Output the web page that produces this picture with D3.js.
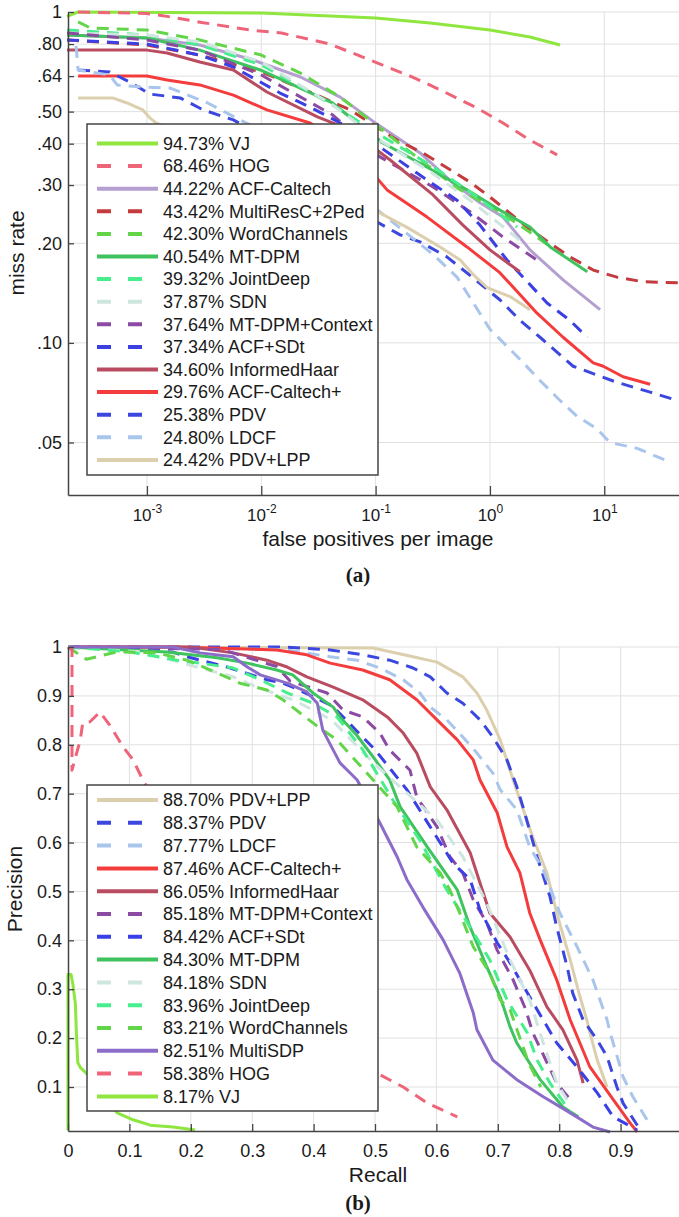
<!DOCTYPE html>
<html>
<head>
<meta charset="utf-8">
<script src="https://cdnjs.cloudflare.com/ajax/libs/d3/7.8.5/d3.min.js"></script>
<style>
body { margin: 0; background: #fff; }
text { font-family: 'Liberation Sans', Arial, sans-serif; fill: #1a1a1a; }
</style>
</head>
<body>
<script>
// ---------- (a) miss rate vs false positives per image ----------
var missNames = ['VJ', 'HOG', 'ACF-Caltech', 'MultiResC+2Ped', 'WordChannels', 'MT-DPM', 'JointDeep',
    'SDN', 'MT-DPM+Context', 'ACF+SDt', 'InformedHaar', 'ACF-Caltech+', 'PDV', 'LDCF', 'PDV+LPP'];
var missScores = [94.73, 68.46, 44.22, 43.42, 42.30, 40.54, 39.32, 37.87, 37.64, 37.34, 34.60, 29.76, 25.38, 24.80, 24.42];
var missTicks = [0.05, 0.10, 0.20, 0.30, 0.40, 0.50, 0.64, 0.80, 1];
var missTickLabels = ['.05', '.10', '.20', '.30', '.40', '.50', '.64', '.80', '1'];
var fppiTicks = [1e-3, 1e-2, 1e-1, 1, 10];

// [fppi, miss rate]
var missVJ = [[0.0002, 0.97], [0.00025, 1.0], [0.01, 0.993], [0.04, 0.972], [0.1, 0.959], [0.3, 0.926], [1.0, 0.882], [2.24, 0.84], [4.1, 0.795]];
var missHOG = [[0.00025, 1.0], [0.001, 0.99], [0.0015, 0.97], [0.003, 0.93], [0.008, 0.882], [0.015, 0.864], [0.04, 0.8], [0.089, 0.716], [0.21, 0.636], [0.37, 0.581], [0.77, 0.513], [1.3, 0.462], [2.24, 0.41], [3.87, 0.37]];
var missACFCaltech = [[0.0002, 0.852], [0.001, 0.834], [0.0029, 0.795], [0.0085, 0.716], [0.022, 0.636], [0.049, 0.553], [0.105, 0.456], [0.245, 0.375], [0.475, 0.304], [0.818, 0.265], [1.3, 0.24], [2.24, 0.191], [4.36, 0.155], [9.19, 0.126]];
var missMultiResC = [[0.0002, 0.823], [0.001, 0.795], [0.0029, 0.741], [0.01, 0.659], [0.0267, 0.573], [0.06, 0.506], [0.154, 0.41], [0.26, 0.375], [0.67, 0.306], [1.0, 0.276], [2.11, 0.224], [3.36, 0.2], [5.0, 0.182], [8.0, 0.166], [12.9, 0.158], [21.8, 0.153], [45, 0.152]];
var missWordChannels = [[0.00025, 0.933], [0.00032, 0.895], [0.001, 0.882], [0.0029, 0.823], [0.01, 0.741], [0.022, 0.654], [0.049, 0.553], [0.109, 0.446], [0.19, 0.383], [0.515, 0.294], [1.22, 0.249], [2.24, 0.216], [3.7, 0.191]];
var missMTDPM = [[0.0002, 0.852], [0.001, 0.834], [0.0029, 0.767], [0.0098, 0.668], [0.042, 0.531], [0.069, 0.462], [0.116, 0.402], [0.28, 0.34], [0.63, 0.29], [1.22, 0.252], [2.24, 0.224], [3.36, 0.195], [7.1, 0.164]];
var missJointDeep = [[0.0002, 0.882], [0.001, 0.852], [0.0029, 0.795], [0.01, 0.692], [0.042, 0.524], [0.109, 0.425], [0.3, 0.345], [0.67, 0.286], [1.73, 0.224]];
var missSDN = [[0.0002, 0.864], [0.001, 0.852], [0.0029, 0.812], [0.01, 0.706], [0.042, 0.524], [0.109, 0.41], [0.3, 0.329], [0.67, 0.27], [1.83, 0.204]];
var missMTDPMContext = [[0.0002, 0.864], [0.001, 0.823], [0.0029, 0.767], [0.01, 0.645], [0.042, 0.489], [0.109, 0.365], [0.318, 0.296], [0.67, 0.249], [1.3, 0.209], [2.58, 0.178]];
var missACFSDt = [[0.0002, 0.823], [0.001, 0.8], [0.0029, 0.741], [0.0057, 0.682], [0.0146, 0.569], [0.0267, 0.516], [0.049, 0.462], [0.109, 0.391], [0.23, 0.326], [0.515, 0.27], [0.818, 0.227], [1.41, 0.178], [2.24, 0.15], [3.16, 0.132], [5.0, 0.117], [7.1, 0.104]];
var missInformedHaar = [[0.0002, 0.767], [0.001, 0.767], [0.0015, 0.752], [0.0029, 0.706], [0.0057, 0.668], [0.0112, 0.573], [0.031, 0.482], [0.06, 0.44], [0.134, 0.357], [0.318, 0.28], [0.58, 0.227], [1.0, 0.191], [1.83, 0.164]];
var missACFCaltechPlus = [[0.00025, 0.641], [0.001, 0.641], [0.0015, 0.623], [0.0029, 0.602], [0.0057, 0.561], [0.0112, 0.506], [0.0267, 0.462], [0.06, 0.391], [0.126, 0.29], [0.282, 0.24], [0.63, 0.195], [1.22, 0.163], [2.58, 0.123], [4.36, 0.104], [8.0, 0.087], [9.8, 0.085], [14.6, 0.079], [25.2, 0.075]];
var missPDV = [[0.00025, 0.668], [0.00047, 0.659], [0.00071, 0.614], [0.00106, 0.565], [0.00195, 0.55], [0.0031, 0.506], [0.0057, 0.472], [0.012, 0.41], [0.0267, 0.333], [0.056, 0.261], [0.164, 0.212], [0.245, 0.202], [0.42, 0.182], [0.67, 0.16], [1.22, 0.135], [1.83, 0.117], [2.74, 0.104], [5.34, 0.085], [12.9, 0.076], [25.2, 0.071], [43.3, 0.067]];
var missLDCF = [[0.00024, 0.79], [0.00025, 0.668], [0.00047, 0.645], [0.00055, 0.602], [0.00087, 0.594], [0.0016, 0.589], [0.0034, 0.531], [0.0065, 0.472], [0.012, 0.425], [0.022, 0.378], [0.049, 0.311], [0.109, 0.249], [0.318, 0.185], [0.515, 0.158], [1.0, 0.11], [1.73, 0.091], [2.74, 0.077], [4.1, 0.067], [5.78, 0.06], [8.65, 0.055], [11.2, 0.05], [19.4, 0.048], [35.4, 0.044]];
var missPDVLPP = [[0.00025, 0.55], [0.0005, 0.55], [0.00067, 0.531], [0.00092, 0.506], [0.00106, 0.479], [0.0012, 0.462], [0.0029, 0.41], [0.0098, 0.357], [0.0326, 0.3], [0.109, 0.247], [0.19, 0.223], [0.366, 0.195], [0.55, 0.178], [0.7, 0.162], [0.944, 0.147], [1.5, 0.138], [2.24, 0.126]];

var missCurves = [missVJ, missHOG, missACFCaltech, missMultiResC, missWordChannels, missMTDPM, missJointDeep,
    missSDN, missMTDPMContext, missACFSDt, missInformedHaar, missACFCaltechPlus, missPDV, missLDCF, missPDVLPP];

// ---------- (b) precision vs recall ----------
var prNames = ['PDV+LPP', 'PDV', 'LDCF', 'ACF-Caltech+', 'InformedHaar', 'MT-DPM+Context', 'ACF+SDt',
    'MT-DPM', 'SDN', 'JointDeep', 'WordChannels', 'MultiSDP', 'HOG', 'VJ'];
var prScores = [88.70, 88.37, 87.77, 87.46, 86.05, 85.18, 84.42, 84.30, 84.18, 83.96, 83.21, 82.51, 58.38, 8.17];
var recallTicks = [0, 0.1, 0.2, 0.3, 0.4, 0.5, 0.6, 0.7, 0.8, 0.9];
var precisionTicks = [0.1, 0.2, 0.3, 0.4, 0.5, 0.6, 0.7, 0.8, 0.9, 1];

// [recall, precision]
var prPDVLPP = [[0, 1], [0.497, 0.998], [0.562, 0.98], [0.601, 0.969], [0.643, 0.939], [0.666, 0.906], [0.682, 0.871], [0.704, 0.81], [0.725, 0.728], [0.757, 0.611], [0.78, 0.538], [0.796, 0.456], [0.818, 0.36], [0.834, 0.284], [0.845, 0.237], [0.85, 0.211], [0.862, 0.155], [0.878, 0.1]];
var prPDV = [[0, 1], [0.35, 1.0], [0.427, 0.994], [0.48, 0.984], [0.524, 0.973], [0.562, 0.957], [0.59, 0.939], [0.617, 0.906], [0.643, 0.885], [0.671, 0.851], [0.692, 0.816], [0.715, 0.769], [0.731, 0.714], [0.741, 0.673], [0.764, 0.571], [0.785, 0.489], [0.796, 0.427], [0.813, 0.346], [0.822, 0.292], [0.839, 0.237], [0.862, 0.196], [0.878, 0.162], [0.894, 0.1], [0.904, 0.067], [0.932, 0.012]];
var prLDCF = [[0, 1], [0.35, 0.995], [0.427, 0.98], [0.471, 0.973], [0.508, 0.957], [0.546, 0.933], [0.573, 0.906], [0.59, 0.877], [0.617, 0.851], [0.643, 0.816], [0.666, 0.783], [0.692, 0.742], [0.704, 0.708], [0.731, 0.667], [0.752, 0.591], [0.774, 0.544], [0.801, 0.456], [0.829, 0.387], [0.855, 0.319], [0.878, 0.237], [0.883, 0.211], [0.904, 0.121], [0.92, 0.08], [0.943, 0.033]];
var prACFCaltechPlus = [[0, 1], [0.171, 1.0], [0.34, 0.994], [0.389, 0.984], [0.427, 0.967], [0.48, 0.953], [0.524, 0.933], [0.568, 0.892], [0.601, 0.851], [0.634, 0.81], [0.66, 0.769], [0.671, 0.728], [0.699, 0.661], [0.715, 0.591], [0.736, 0.538], [0.752, 0.456], [0.769, 0.401], [0.796, 0.319], [0.818, 0.237], [0.85, 0.141], [0.888, 0.074], [0.915, 0.027], [0.927, 0.008]];
var prInformedHaar = [[0, 1], [0.2, 1.0], [0.269, 0.988], [0.324, 0.973], [0.357, 0.959], [0.389, 0.939], [0.432, 0.918], [0.48, 0.892], [0.52, 0.857], [0.546, 0.824], [0.568, 0.783], [0.59, 0.714], [0.617, 0.667], [0.655, 0.579], [0.687, 0.456], [0.72, 0.407], [0.752, 0.339], [0.78, 0.264], [0.806, 0.217], [0.829, 0.155], [0.839, 0.108]];
var prMTDPMContext = [[0, 1], [0.25, 0.995], [0.34, 0.96], [0.362, 0.93], [0.422, 0.906], [0.448, 0.871], [0.48, 0.857], [0.508, 0.824], [0.524, 0.789], [0.557, 0.748], [0.568, 0.693], [0.601, 0.632], [0.622, 0.571], [0.643, 0.538], [0.66, 0.483], [0.682, 0.436], [0.699, 0.38], [0.725, 0.319], [0.745, 0.26], [0.757, 0.211], [0.796, 0.108], [0.818, 0.074]];
var prACFSDt = [[0, 1], [0.17, 0.99], [0.194, 0.98], [0.259, 0.959], [0.324, 0.933], [0.35, 0.926], [0.366, 0.918], [0.43, 0.88], [0.5, 0.79], [0.552, 0.708], [0.59, 0.632], [0.627, 0.558], [0.655, 0.524], [0.671, 0.462], [0.699, 0.395], [0.72, 0.354], [0.752, 0.284], [0.796, 0.19], [0.829, 0.141], [0.862, 0.088], [0.888, 0.039], [0.927, 0.012]];
var prMTDPM = [[0, 1], [0.161, 0.99], [0.243, 0.978], [0.292, 0.967], [0.34, 0.953], [0.366, 0.943], [0.399, 0.906], [0.432, 0.877], [0.443, 0.857], [0.47, 0.82], [0.5, 0.77], [0.524, 0.728], [0.541, 0.673], [0.585, 0.591], [0.634, 0.503], [0.655, 0.427], [0.682, 0.346], [0.704, 0.284], [0.72, 0.223], [0.731, 0.19], [0.769, 0.115], [0.806, 0.059], [0.831, 0.039]];
var prSDN = [[0, 1], [0.12, 0.99], [0.269, 0.939], [0.308, 0.918], [0.37, 0.89], [0.43, 0.85], [0.5, 0.76], [0.601, 0.646], [0.643, 0.571], [0.682, 0.476], [0.72, 0.36], [0.752, 0.278], [0.774, 0.19], [0.796, 0.108], [0.82, 0.06]];
var prJointDeep = [[0, 1], [0.1, 0.99], [0.178, 0.973], [0.215, 0.967], [0.269, 0.957], [0.313, 0.933], [0.357, 0.906], [0.399, 0.885], [0.438, 0.857], [0.48, 0.79], [0.529, 0.687], [0.573, 0.605], [0.617, 0.503], [0.655, 0.427], [0.687, 0.36], [0.715, 0.278], [0.748, 0.211], [0.764, 0.155], [0.785, 0.108], [0.82, 0.045]];
var prWordChannels = [[0, 1], [0.03, 0.975], [0.08, 0.99], [0.145, 0.988], [0.194, 0.973], [0.243, 0.947], [0.28, 0.926], [0.324, 0.912], [0.35, 0.892], [0.378, 0.865], [0.41, 0.834], [0.438, 0.81], [0.497, 0.728], [0.536, 0.673], [0.568, 0.591], [0.606, 0.538], [0.622, 0.503], [0.638, 0.456], [0.66, 0.387], [0.687, 0.333], [0.704, 0.278], [0.72, 0.258], [0.75, 0.15], [0.77, 0.1]];
var prMultiSDP = [[0, 1], [0.171, 1.0], [0.215, 0.988], [0.269, 0.98], [0.292, 0.959], [0.313, 0.943], [0.357, 0.926], [0.389, 0.908], [0.406, 0.885], [0.415, 0.83], [0.432, 0.789], [0.443, 0.763], [0.471, 0.728], [0.508, 0.64], [0.536, 0.571], [0.552, 0.524], [0.578, 0.468], [0.611, 0.401], [0.638, 0.333], [0.66, 0.252], [0.666, 0.217], [0.692, 0.155], [0.731, 0.115], [0.774, 0.08], [0.818, 0.047], [0.855, 0.018], [0.883, 0.008]];
var prHOG = [[0, 1], [0.0065, 0.994], [0.0065, 0.748], [0.02, 0.81], [0.024, 0.845], [0.036, 0.847], [0.052, 0.867], [0.068, 0.84], [0.09, 0.795], [0.106, 0.769], [0.122, 0.728], [0.3, 0.35], [0.508, 0.125], [0.546, 0.1], [0.585, 0.067], [0.634, 0.039]];
var prVJ = [[0, 0.012], [0, 0.33], [0.005, 0.33], [0.008, 0.31], [0.012, 0.27], [0.014, 0.2], [0.016, 0.15], [0.02, 0.14], [0.03, 0.128], [0.05, 0.1], [0.08, 0.047], [0.106, 0.033], [0.134, 0.022], [0.171, 0.018], [0.207, 0.012]];

var prCurves = [prPDVLPP, prPDV, prLDCF, prACFCaltechPlus, prInformedHaar, prMTDPMContext, prACFSDt,
    prMTDPM, prSDN, prJointDeep, prWordChannels, prMultiSDP, prHOG, prVJ];

// line styles per method
var methodStyle = {
    'VJ': { color: '#8ee63f', dashed: false },
    'HOG': { color: '#ee6479', dashed: true },
    'ACF-Caltech': { color: '#b49fd0', dashed: false },
    'MultiResC+2Ped': { color: '#c43b3d', dashed: true },
    'WordChannels': { color: '#63d548', dashed: true },
    'MT-DPM': { color: '#3ec35f', dashed: false },
    'JointDeep': { color: '#47ee8c', dashed: true },
    'SDN': { color: '#cfe5e0', dashed: true },
    'MT-DPM+Context': { color: '#8c4aa3', dashed: true },
    'ACF+SDt': { color: '#3b40e4', dashed: true },
    'InformedHaar': { color: '#b94c60', dashed: false },
    'ACF-Caltech+': { color: '#f43c3c', dashed: false },
    'PDV': { color: '#3c47df', dashed: true },
    'LDCF': { color: '#a9c5ec', dashed: true },
    'PDV+LPP': { color: '#dccfae', dashed: false },
    'MultiSDP': { color: '#8b6cc9', dashed: false }
};

var svg = d3.select('body')
    .append('svg')
    .attr('width', 679)
    .attr('height', 1217)
    .style('display', 'block');

svg.append('rect')
    .attr('width', 679)
    .attr('height', 1217)
    .attr('fill', '#fff');

var gridColor = '#e0e0e0';
var axisColor = '#444';

// ===================== chart (a) =====================
var xA = d3.scaleLog().domain([2.04e-4, 56.2]).range([68, 690]);
var yA = d3.scaleLog().domain([0.0347, 1]).range([495, 12]);

var gA = svg.append('g');

// grid
gA.selectAll('.hgrid')
    .data(missTicks)
    .enter().append('line')
    .attr('x1', 68).attr('x2', 679)
    .attr('y1', d => yA(d)).attr('y2', d => yA(d))
    .attr('stroke', gridColor).attr('stroke-width', 1);

gA.selectAll('.vgrid')
    .data(fppiTicks)
    .enter().append('line')
    .attr('x1', d => xA(d)).attr('x2', d => xA(d))
    .attr('y1', 12).attr('y2', 495)
    .attr('stroke', gridColor).attr('stroke-width', 1);

var lineA = d3.line()
    .x(d => xA(d[0]))
    .y(d => yA(d[1]));

gA.selectAll('.curve')
    .data(missCurves)
    .enter().append('path')
    .attr('d', lineA)
    .attr('fill', 'none')
    .attr('stroke', (d, i) => methodStyle[missNames[i]].color)
    .attr('stroke-width', 3)
    .attr('stroke-linejoin', 'round')
    .attr('stroke-dasharray', (d, i) => methodStyle[missNames[i]].dashed ? '12,8' : null);

// axes
var xAxisA = gA.append('g')
    .attr('transform', 'translate(0,495)')
    .call(d3.axisBottom(xA).tickValues(fppiTicks).tickSizeInner(-9).tickSizeOuter(0).tickFormat(''));
xAxisA.select('.domain').attr('stroke', axisColor).attr('stroke-width', 1.5);
xAxisA.selectAll('.tick line').attr('stroke', axisColor).attr('stroke-width', 1.3);
var expLabel = xAxisA.selectAll('.tick').append('text')
    .attr('y', 26)
    .attr('text-anchor', 'middle')
    .attr('fill', '#1a1a1a')
    .style('font-size', '17px');
expLabel.append('tspan').text('10');
expLabel.append('tspan')
    .attr('dy', -8)
    .style('font-size', '12px')
    .text(d => Math.round(Math.log10(d)));

var yAxisA = gA.append('g')
    .attr('transform', 'translate(68,0)')
    .call(d3.axisLeft(yA).tickValues(missTicks).tickSizeInner(-6).tickSizeOuter(0).tickPadding(6)
        .tickFormat((d, i) => missTickLabels[i]));
yAxisA.select('.domain').attr('stroke', axisColor).attr('stroke-width', 1.5);
yAxisA.selectAll('.tick line').attr('stroke', axisColor).attr('stroke-width', 1.3);
yAxisA.selectAll('.tick text').style('font-size', '18px').attr('fill', '#1a1a1a');

gA.append('text')
    .attr('transform', 'translate(24,253) rotate(-90)')
    .attr('text-anchor', 'middle')
    .style('font-size', '21px')
    .text('miss rate');

gA.append('text')
    .attr('x', 378).attr('y', 546)
    .attr('text-anchor', 'middle')
    .style('font-size', '21px')
    .text('false positives per image');

gA.append('text')
    .attr('x', 358).attr('y', 582)
    .attr('text-anchor', 'middle')
    .style('font-family', "'Liberation Serif', 'Times New Roman', serif")
    .style('font-weight', 'bold')
    .style('font-size', '21px')
    .text('(a)');

// legend
var legA = gA.append('g').attr('transform', 'translate(87,124)');
legA.append('rect')
    .attr('width', 291).attr('height', 351)
    .attr('fill', '#fff')
    .attr('stroke', axisColor).attr('stroke-width', 1.5);
var rowA = legA.selectAll('.row')
    .data(missNames)
    .enter().append('g')
    .attr('transform', (d, i) => 'translate(0,' + (19.5 + i * 22.6) + ')');
rowA.append('line')
    .attr('x1', 10).attr('x2', 71)
    .attr('stroke', d => methodStyle[d].color)
    .attr('stroke-width', 4)
    .attr('stroke-dasharray', d => methodStyle[d].dashed ? '14,17' : null);
rowA.append('text')
    .attr('x', 76).attr('dy', '0.35em')
    .style('font-size', '18px')
    .text((d, i) => missScores[i].toFixed(2) + '% ' + d);

// ===================== chart (b) =====================
var xB = d3.scaleLinear().domain([0, 1]).range([68, 682]);
var yB = d3.scaleLinear().domain([0.01, 1]).range([1131, 647]);

var gB = svg.append('g');

gB.selectAll('.hgrid')
    .data(precisionTicks)
    .enter().append('line')
    .attr('x1', 68).attr('x2', 679)
    .attr('y1', d => yB(d)).attr('y2', d => yB(d))
    .attr('stroke', gridColor).attr('stroke-width', 1);

gB.selectAll('.vgrid')
    .data(recallTicks.slice(1))
    .enter().append('line')
    .attr('x1', d => xB(d)).attr('x2', d => xB(d))
    .attr('y1', 647).attr('y2', 1131)
    .attr('stroke', gridColor).attr('stroke-width', 1);

var lineB = d3.line()
    .x(d => xB(d[0]))
    .y(d => yB(d[1]));

gB.selectAll('.curve')
    .data(prCurves)
    .enter().append('path')
    .attr('d', lineB)
    .attr('fill', 'none')
    .attr('stroke', (d, i) => methodStyle[prNames[i]].color)
    .attr('stroke-width', 3)
    .attr('stroke-linejoin', 'round')
    .attr('stroke-dasharray', (d, i) => methodStyle[prNames[i]].dashed ? '12,8' : null);

var xAxisB = gB.append('g')
    .attr('transform', 'translate(0,1131)')
    .call(d3.axisBottom(xB).tickValues(recallTicks).tickSizeInner(-7).tickSizeOuter(0).tickPadding(13)
        .tickFormat(d => d === 0 ? '0' : d3.format('.1f')(d)));
xAxisB.select('.domain').attr('stroke', axisColor).attr('stroke-width', 1.5);
xAxisB.selectAll('.tick line').attr('stroke', axisColor).attr('stroke-width', 1.3);
xAxisB.selectAll('.tick text').style('font-size', '18px').attr('fill', '#1a1a1a');

var yAxisB = gB.append('g')
    .attr('transform', 'translate(68,0)')
    .call(d3.axisLeft(yB).tickValues(precisionTicks).tickSizeInner(-6).tickSizeOuter(0).tickPadding(6)
        .tickFormat(d => d === 1 ? '1' : d3.format('.1f')(d)));
yAxisB.select('.domain').attr('stroke', axisColor).attr('stroke-width', 1.5);
yAxisB.selectAll('.tick line').attr('stroke', axisColor).attr('stroke-width', 1.3);
yAxisB.selectAll('.tick text').style('font-size', '18px').attr('fill', '#1a1a1a');

gB.append('text')
    .attr('transform', 'translate(22,889) rotate(-90)')
    .attr('text-anchor', 'middle')
    .style('font-size', '21px')
    .text('Precision');

gB.append('text')
    .attr('x', 378).attr('y', 1182)
    .attr('text-anchor', 'middle')
    .style('font-size', '21px')
    .text('Recall');

gB.append('text')
    .attr('x', 358).attr('y', 1210)
    .attr('text-anchor', 'middle')
    .style('font-family', "'Liberation Serif', 'Times New Roman', serif")
    .style('font-weight', 'bold')
    .style('font-size', '21px')
    .text('(b)');

var legB = gB.append('g').attr('transform', 'translate(87,785)');
legB.append('rect')
    .attr('width', 291).attr('height', 326)
    .attr('fill', '#fff')
    .attr('stroke', axisColor).attr('stroke-width', 1.5);
var rowB = legB.selectAll('.row')
    .data(prNames)
    .enter().append('g')
    .attr('transform', (d, i) => 'translate(0,' + (15 + i * 22.8) + ')');
rowB.append('line')
    .attr('x1', 10).attr('x2', 71)
    .attr('stroke', d => methodStyle[d].color)
    .attr('stroke-width', 4)
    .attr('stroke-dasharray', d => methodStyle[d].dashed ? '14,17' : null);
rowB.append('text')
    .attr('x', 76).attr('dy', '0.35em')
    .style('font-size', '18px')
    .text((d, i) => prScores[i].toFixed(2) + '% ' + d);
</script>
</body>
</html>
